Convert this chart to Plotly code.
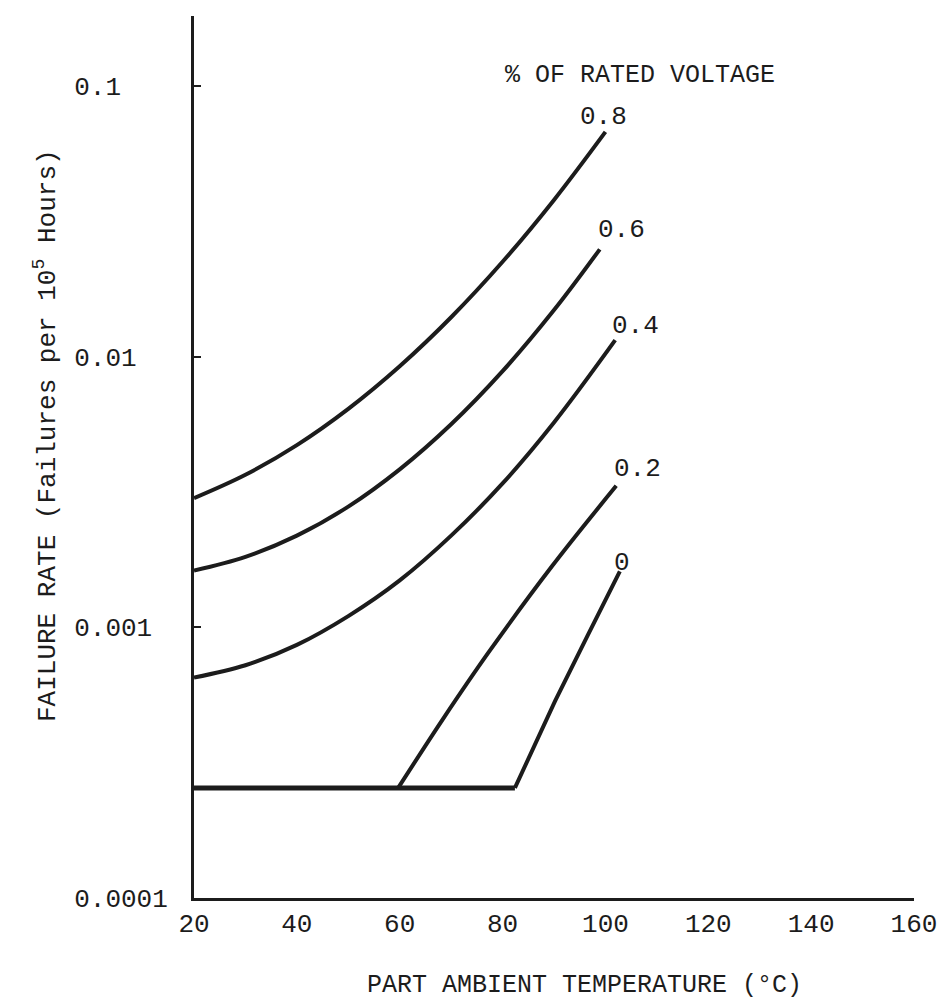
import math
import plotly.graph_objects as go

# ---- data ----
# x: part ambient temperature (deg C); y: failure rate (failures per 1e5 hours)
temp_08 = [20, 30, 40, 50, 60, 70, 80, 90, 100]
rate_08 = [0.00300, 0.00366, 0.00471, 0.00641, 0.00921, 0.01397, 0.02239, 0.0379, 0.0676]

temp_06 = [20, 30, 40, 50, 60, 70, 80, 90, 98.9]
rate_06 = [0.00162, 0.00182, 0.00218, 0.00279, 0.00383, 0.00562, 0.00883, 0.01485, 0.0249]

temp_04 = [20, 30, 40, 50, 60, 70, 80, 90, 101.9]
rate_04 = [0.000652, 0.000724, 0.000861, 0.00110, 0.00149, 0.00218, 0.00340, 0.00571, 0.0115]

temp_02 = [59.7, 68.4, 77.2, 89.6, 102.1]
rate_02 = [0.000255, 0.000458, 0.000804, 0.00168, 0.00333]

temp_00 = [82.4, 90.2, 96.6, 102.8]
rate_00 = [0.000255, 0.000534, 0.000937, 0.00161]

temp_base = [20, 82.4]
rate_base = [0.000255, 0.000255]

curve_labels = ["0.8", "0.6", "0.4", "0.2", "0"]
label_temp = [99.7, 103.2, 105.9, 106.3, 103.2]
label_rate = [0.0767, 0.0294, 0.0130, 0.00385, 0.00173]

x_ticks = [20, 40, 60, 80, 100, 120, 140, 160]
y_ticks = [0.1, 0.01, 0.001, 0.0001]
y_tick_text = ["0.1", "0.01", "0.001", "0.0001"]

FONT = "Liberation Mono, Courier New, monospace"
INK = "#1c1c1c"
FS = 26

fig = go.Figure()
series = [
    (temp_base, rate_base, "linear", 5),
    (temp_08, rate_08, "spline", 4),
    (temp_06, rate_06, "spline", 4),
    (temp_04, rate_04, "spline", 4),
    (temp_02, rate_02, "spline", 4),
    (temp_00, rate_00, "linear", 4),
]
for xs, ys, shape, w in series:
    fig.add_trace(go.Scatter(x=xs, y=ys, mode="lines",
                             line=dict(color=INK, width=w, shape=shape),
                             showlegend=False, hoverinfo="skip"))

for txt, lx, ly in zip(curve_labels, label_temp, label_rate):
    fig.add_annotation(x=lx, y=math.log10(ly), text=txt, showarrow=False,
                       font=dict(family=FONT, size=FS, color=INK),
                       xanchor="center", yanchor="middle")

fig.add_annotation(xref="paper", yref="paper", x=(495 - 186) / 720, y=(890 - 68) / 882,
                   text="% OF RATED VOLTAGE", showarrow=False,
                   font=dict(family=FONT, size=FS - 1, color=INK),
                   xanchor="left", yanchor="middle")

fig.add_annotation(xref="paper", yref="paper", x=(38 - 186) / 720, y=(890 - 428) / 882,
                   text="FAILURE RATE (Failures per 10<sup>5</sup> Hours)",
                   textangle=-90, showarrow=False,
                   font=dict(family=FONT, size=FS, color=INK),
                   xanchor="center", yanchor="middle")

fig.add_annotation(xref="paper", yref="paper", x=(357 - 186) / 720, y=(890 - 977) / 882,
                   text="PART AMBIENT TEMPERATURE (°C)", showarrow=False,
                   font=dict(family=FONT, size=FS - 1, color=INK),
                   xanchor="left", yanchor="middle")

pad = "\u00a0"
y_text_padded = [t + pad * (6 - len(t)) for t in y_tick_text]

fig.update_layout(
    width=948, height=1003,
    margin=dict(l=186, r=42, t=8, b=113),
    paper_bgcolor="white", plot_bgcolor="white",
    xaxis=dict(range=[20, 160], tickmode="array", tickvals=x_ticks,
               ticktext=[str(v) for v in x_ticks], ticks="",
               showgrid=False, zeroline=False, showline=True,
               linecolor=INK, linewidth=3,
               tickfont=dict(family=FONT, size=FS, color=INK)),
    yaxis=dict(type="log", range=[-4, -0.742], tickmode="array",
               tickvals=y_ticks, ticktext=y_text_padded,
               ticks="inside", ticklen=7, tickwidth=2, tickcolor=INK,
               ticklabelstandoff=18,
               showgrid=False, zeroline=False, showline=True,
               linecolor=INK, linewidth=3,
               tickfont=dict(family=FONT, size=FS, color=INK)),
)

fig.write_html("out.html")
